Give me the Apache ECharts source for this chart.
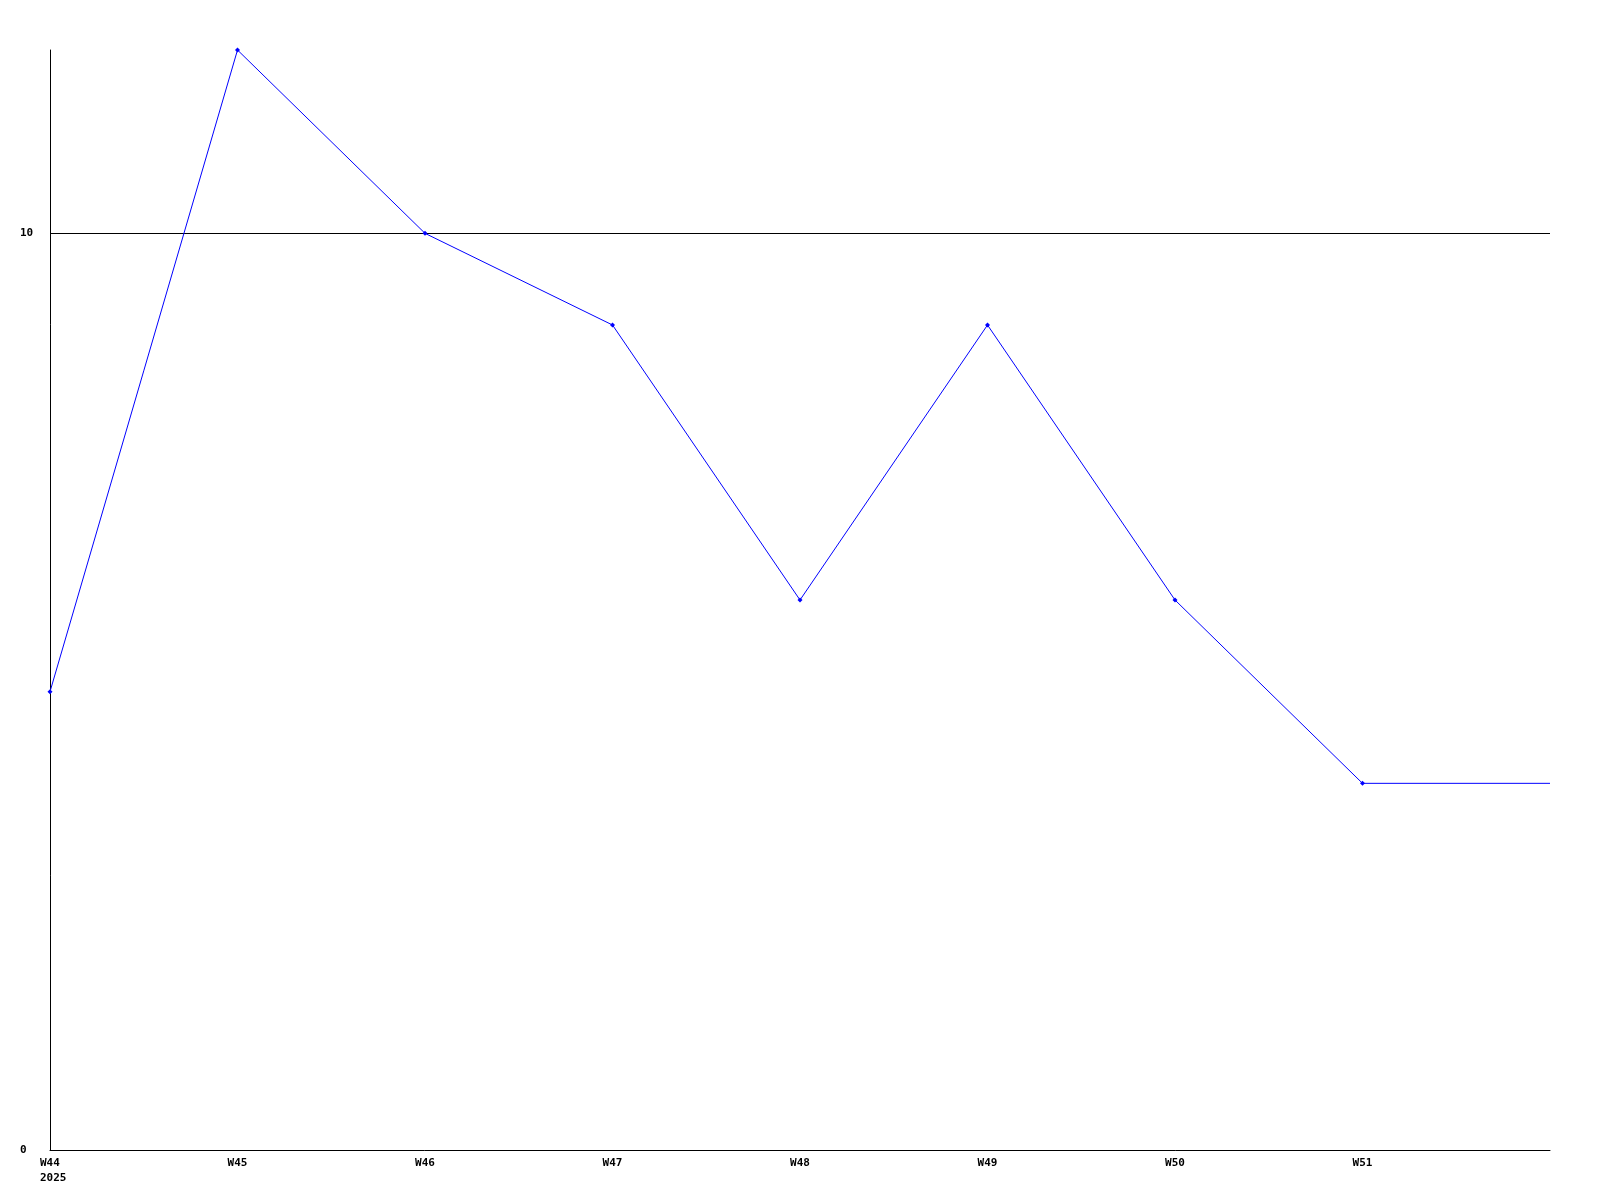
<!DOCTYPE html>
<html>
<head>
<meta charset="utf-8">
<script src="https://cdn.jsdelivr.net/npm/echarts@6/dist/echarts.min.js"></script>
<style>
html,body{margin:0;padding:0;background:#fff;}
#chart{width:1600px;height:1200px;}
</style>
</head>
<body>
<div id="chart"></div>
<script>
const categories = ['W44', 'W45', 'W46', 'W47', 'W48', 'W49', 'W50', 'W51', 'W52'];
const values = [5, 12, 10, 9, 6, 9, 6, 4, 4];
const yearLabel = '2025';
const yMax = 12;
const yInterval = 10;

const chart = echarts.init(document.getElementById('chart'), null, {renderer: 'canvas'});
const font = {fontFamily: 'DejaVu Sans Mono', fontWeight: 'bold', fontSize: 11, color: '#000'};
chart.setOption({
  animation: false,
  backgroundColor: '#fff',
  grid: {left: 50, right: 50, top: 50, bottom: 50, containLabel: false},
  xAxis: {
    type: 'category',
    data: categories,
    boundaryGap: false,
    axisLine: {lineStyle: {color: '#000', width: 1}},
    axisTick: {show: false},
    splitLine: {show: false},
    axisLabel: Object.assign({}, font, {
      interval: 0,
      margin: 6,
      lineHeight: 15,
      formatter: function (v, i) {
        if (i === categories.length - 1) return '';
        return i === 0 ? '{a|' + v + '}\n{a|' + yearLabel + '}' : v;
      },
      rich: {
        a: Object.assign({}, font, {width: 20, align: 'left', lineHeight: 15})
      }
    })
  },
  yAxis: {
    type: 'value',
    min: 0,
    max: yMax,
    interval: yInterval,
    axisLine: {show: true, lineStyle: {color: '#000', width: 1}},
    axisTick: {show: false},
    splitLine: {show: true, showMinLine: false, showMaxLine: false, lineStyle: {color: '#000', width: 1}},
    axisLabel: Object.assign({}, font, {align: 'left', margin: 30, showMaxLabel: false})
  },
  series: [{
    type: 'line',
    data: values.map(function (v, i) {
      return i === values.length - 1 ? {value: v, symbol: 'none'} : v;
    }),
    symbol: 'diamond',
    symbolSize: 5,
    showAllSymbol: true,
    lineStyle: {color: '#0000ff', width: 1},
    itemStyle: {color: '#0000ff'}
  }]
});
</script>
</body>
</html>
